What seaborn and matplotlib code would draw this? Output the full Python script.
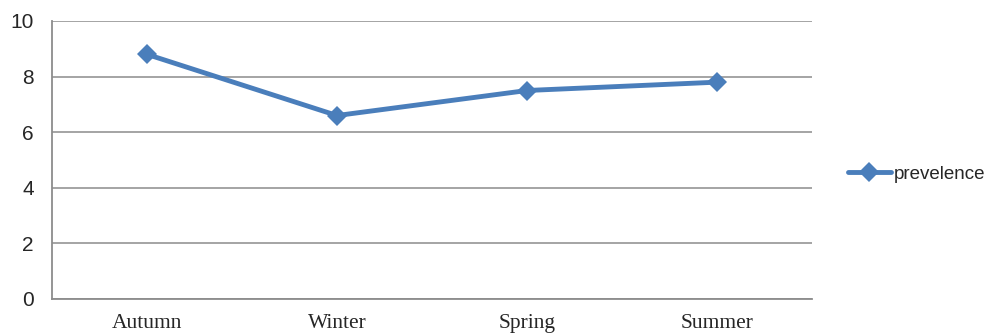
import matplotlib
matplotlib.use("Agg")
import matplotlib.pyplot as plt
import numpy as np
import pandas as pd
import seaborn as sns

seasons = ["Autumn", "Winter", "Spring", "Summer"]
prevalence = [8.8, 6.6, 7.5, 7.8]
series_name = "prevelence"
y_ticks = [0, 2, 4, 6, 8, 10]

df = pd.DataFrame({"season": seasons, "value": prevalence, "series": series_name})

sns.set_style("white")
plt.rcParams["font.family"] = ["Liberation Sans", "DejaVu Sans"]

fig = plt.figure(figsize=(9.9, 3.35), dpi=100)
ax = fig.add_axes([52 / 990, 1 - 299 / 335, (812 - 52) / 990, (299 - 21) / 335])

blue = "#4a7ebb"
sns.lineplot(data=df, x="season", y="value", hue="series", palette=[blue],
             sort=False, marker="D", markersize=10, markeredgewidth=0,
             linewidth=3.5, ax=ax)

ax.set_xlim(-0.5, len(seasons) - 0.5)
ax.set_ylim(0, 10)
ax.set_yticks(y_ticks)
ax.yaxis.grid(True, color="#8c8c8c", linewidth=1.1)
ax.set_axisbelow(True)
ax.set_xlabel("")
ax.set_ylabel("")

ax.set_xticks(range(len(seasons)))
ax.set_xticklabels(seasons, family=["Liberation Serif"], fontsize=15.5)
ax.set_xticks(np.arange(-0.5, len(seasons)), minor=True)
ax.tick_params(axis="x", which="major", length=0, pad=11)
ax.tick_params(axis="x", which="minor", length=5, width=1.1, color="#8c8c8c", direction="out")
ax.tick_params(axis="y", length=5, width=1.1, color="#8c8c8c", direction="out",
               labelsize=15, pad=8)

for s in ["top", "right"]:
    ax.spines[s].set_visible(False)
for s in ["left", "bottom"]:
    ax.spines[s].set_color("#8c8c8c")
    ax.spines[s].set_linewidth(1.3)

handles, labels = ax.get_legend_handles_labels()
ax.legend(handles, labels, loc="center left", bbox_to_anchor=(840 / 990, 1 - 174 / 335),
          bbox_transform=fig.transFigure, frameon=False, fontsize=13.5,
          handlelength=2.3, handletextpad=0.15, borderaxespad=0)

fig.savefig("out.png", dpi=100)
